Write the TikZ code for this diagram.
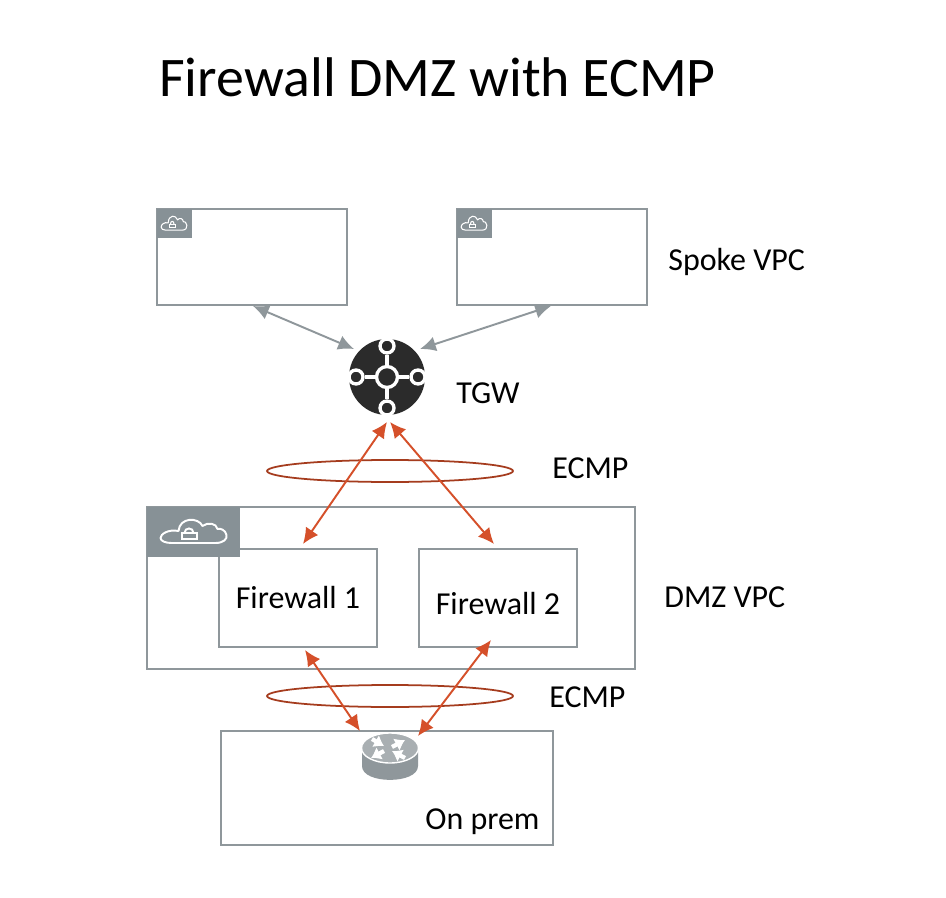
\documentclass[tikz,border=0pt]{standalone}
\usepackage{fontspec}
\setmainfont{Carlito}
\usetikzlibrary{arrows.meta,positioning,shapes.geometric}
\definecolor{boxgrey}{HTML}{8F979B}
\definecolor{taggrey}{HTML}{879196}
\definecolor{linkred}{HTML}{D5502A}
\definecolor{ringred}{HTML}{A53C1E}
\definecolor{hubdark}{HTML}{2B2B2B}
\definecolor{routertop}{HTML}{A9AFB2}
\definecolor{routerside}{HTML}{8F979B}
\tikzset{
    x=0.02cm,y=-0.02cm,
    vpc/.style={draw=boxgrey, line width=1.1pt, inner sep=0pt, font=\fontsize{18.2}{22}\selectfont},
    lbl/.style={inner sep=0pt, anchor=base west, font=\fontsize{18.2}{22}\selectfont},
    greylink/.style={{Latex[length=9pt,width=8.5pt]}-{Latex[length=9pt,width=8.5pt]}, draw=boxgrey, line width=1.1pt},
    redlink/.style={{Latex[length=9pt,width=8.5pt]}-{Latex[length=9pt,width=8.5pt]}, draw=linkred, line width=1.1pt},
    ring/.style={ellipse, draw=ringred, line width=1pt, minimum width=4.92cm, minimum height=0.44cm, inner sep=0pt},
    tag/.style={fill=taggrey, draw=none, inner sep=0pt},
    spokes/.style={circle, draw=white, fill=hubdark, line width=1.9pt, inner sep=0pt},
    rarrow/.style={white, line width=2.4pt, -{Latex[length=5.5pt,width=8pt]}},
    cloud/.pic={
        \draw[white, line width=#1, line join=round] (-22,11) -- (22,11)
            .. controls (30,11) and (34,7) .. (33,3)
            .. controls (32,-2) and (27,-4) .. (24,-3)
            .. controls (23,-9) and (14,-10) .. (9,-6)
            .. controls (5,-15) and (-14,-15) .. (-15,-1)
            .. controls (-25,-3) and (-33,2) .. (-33,6)
            .. controls (-33,9) and (-28,11) .. (-22,11) -- cycle;
        \draw[white, line width=#1] (-11.5,1) rectangle (3.5,7);
        \draw[white, line width=#1] (-9,1) .. controls (-9,-5) and (0,-5) .. (0,1);
    },
}
\begin{document}
\begin{tikzpicture}
    \useasboundingbox (0,0) rectangle (946,898);
    \fill[white] (0,0) rectangle (946,898);

    \node[lbl, font=\fontsize{31.8}{36}\selectfont] (title) at (159,97) {Firewall DMZ with ECMP};

    % Spoke VPCs
    \node[vpc, minimum width=3.8cm, minimum height=1.92cm] (spoke1) at (252,257) {};
    \node[vpc, minimum width=3.8cm, minimum height=1.92cm] (spoke2) at (552,257) {};
    \node[tag, minimum width=0.7cm, minimum height=0.58cm] (tag1) at (174.5,223.5) {};
    \node[tag, minimum width=0.7cm, minimum height=0.58cm] (tag2) at (474.5,223.5) {};
    \pic[xscale=0.39,yscale=0.6] at (174,223.5) {cloud=0.6pt};
    \pic[xscale=0.39,yscale=0.6] at (474,223.5) {cloud=0.6pt};
    \node[lbl] (spokelbl) at (668,271) {Spoke VPC};

    % TGW
    \node[circle, fill=hubdark, minimum size=1.52cm, inner sep=0pt] (tgw) at (387,377) {};
    \foreach \name/\dx/\dy in {n/0/-31, s/0/31, w/-31/0, e/31/0} {
        \node[spokes, minimum size=0.28cm] (hub\name) at (387+\dx,377+\dy) {};
        \draw[white, line width=1.9pt] (tgw.center) -- (hub\name);
    }
    \node[spokes, minimum size=0.42cm] (hub) at (tgw) {};
    \node[lbl] (tgwlbl) at (456,403) {TGW};

    % DMZ
    \node[vpc, minimum width=9.76cm, minimum height=3.24cm] (dmz) at (391,588) {};
    \node[vpc, minimum width=3.16cm, minimum height=1.96cm] (fw1) at (298,598) {Firewall 1};
    \node[vpc, minimum width=3.16cm, minimum height=1.96cm] (fw2) at (498,598) {\raisebox{-3pt}[12.5pt][0pt]{Firewall 2}};
    \node[tag, minimum width=1.86cm, minimum height=1cm] (tag3) at (193.5,532) {};
    \pic at (193.5,532) {cloud=1.1pt};
    \node[lbl] (dmzlbl) at (664,607) {DMZ VPC};

    % on prem
    \node[vpc, minimum width=6.64cm, minimum height=2.28cm] (onprem) at (387,788) {};
    \node[lbl] (onpremlbl) at (425,829) {On prem};

    % router
    \fill[routerside] (362,748) -- (362,766) .. controls (362,784.5) and (418,784.5) .. (418,766) -- (418,748) -- cycle;
    \draw[white, line width=0.8pt, fill=routertop] (390,748) ellipse (28.5 and 15);
    \draw[rarrow] (372,739) -- (384,746);
    \draw[rarrow] (392,747) -- (405,740);
    \draw[rarrow] (384,751) -- (371,758);
    \draw[rarrow] (405,758) -- (392,751);

    % ECMP rings
    \node[ring] (ring1) at (390,471) {};
    \node[ring] (ring2) at (390,696) {};
    \node[lbl] (ecmp1) at (552,478) {ECMP};
    \node[lbl] (ecmp2) at (549,707) {ECMP};

    % free ends
    \coordinate (a1) at (253,306);
    \coordinate (a2) at (354,349);
    \coordinate (b1) at (551,306);
    \coordinate (b2) at (420,349);
    \coordinate (c1) at (387,422);
    \coordinate (c2) at (303,544);
    \coordinate (d1) at (390,422);
    \coordinate (d2) at (494,544);
    \coordinate (e1) at (305,650);
    \coordinate (e2) at (360,731);
    \coordinate (f1) at (491,640);
    \coordinate (f2) at (418,736);

    % links
    \draw[greylink] (a1) -- (a2);
    \draw[greylink] (b1) -- (b2);
    \draw[redlink] (c1) -- (c2);
    \draw[redlink] (d1) -- (d2);
    \draw[redlink] (e1) -- (e2);
    \draw[redlink] (f1) -- (f2);
\end{tikzpicture}
\end{document}
